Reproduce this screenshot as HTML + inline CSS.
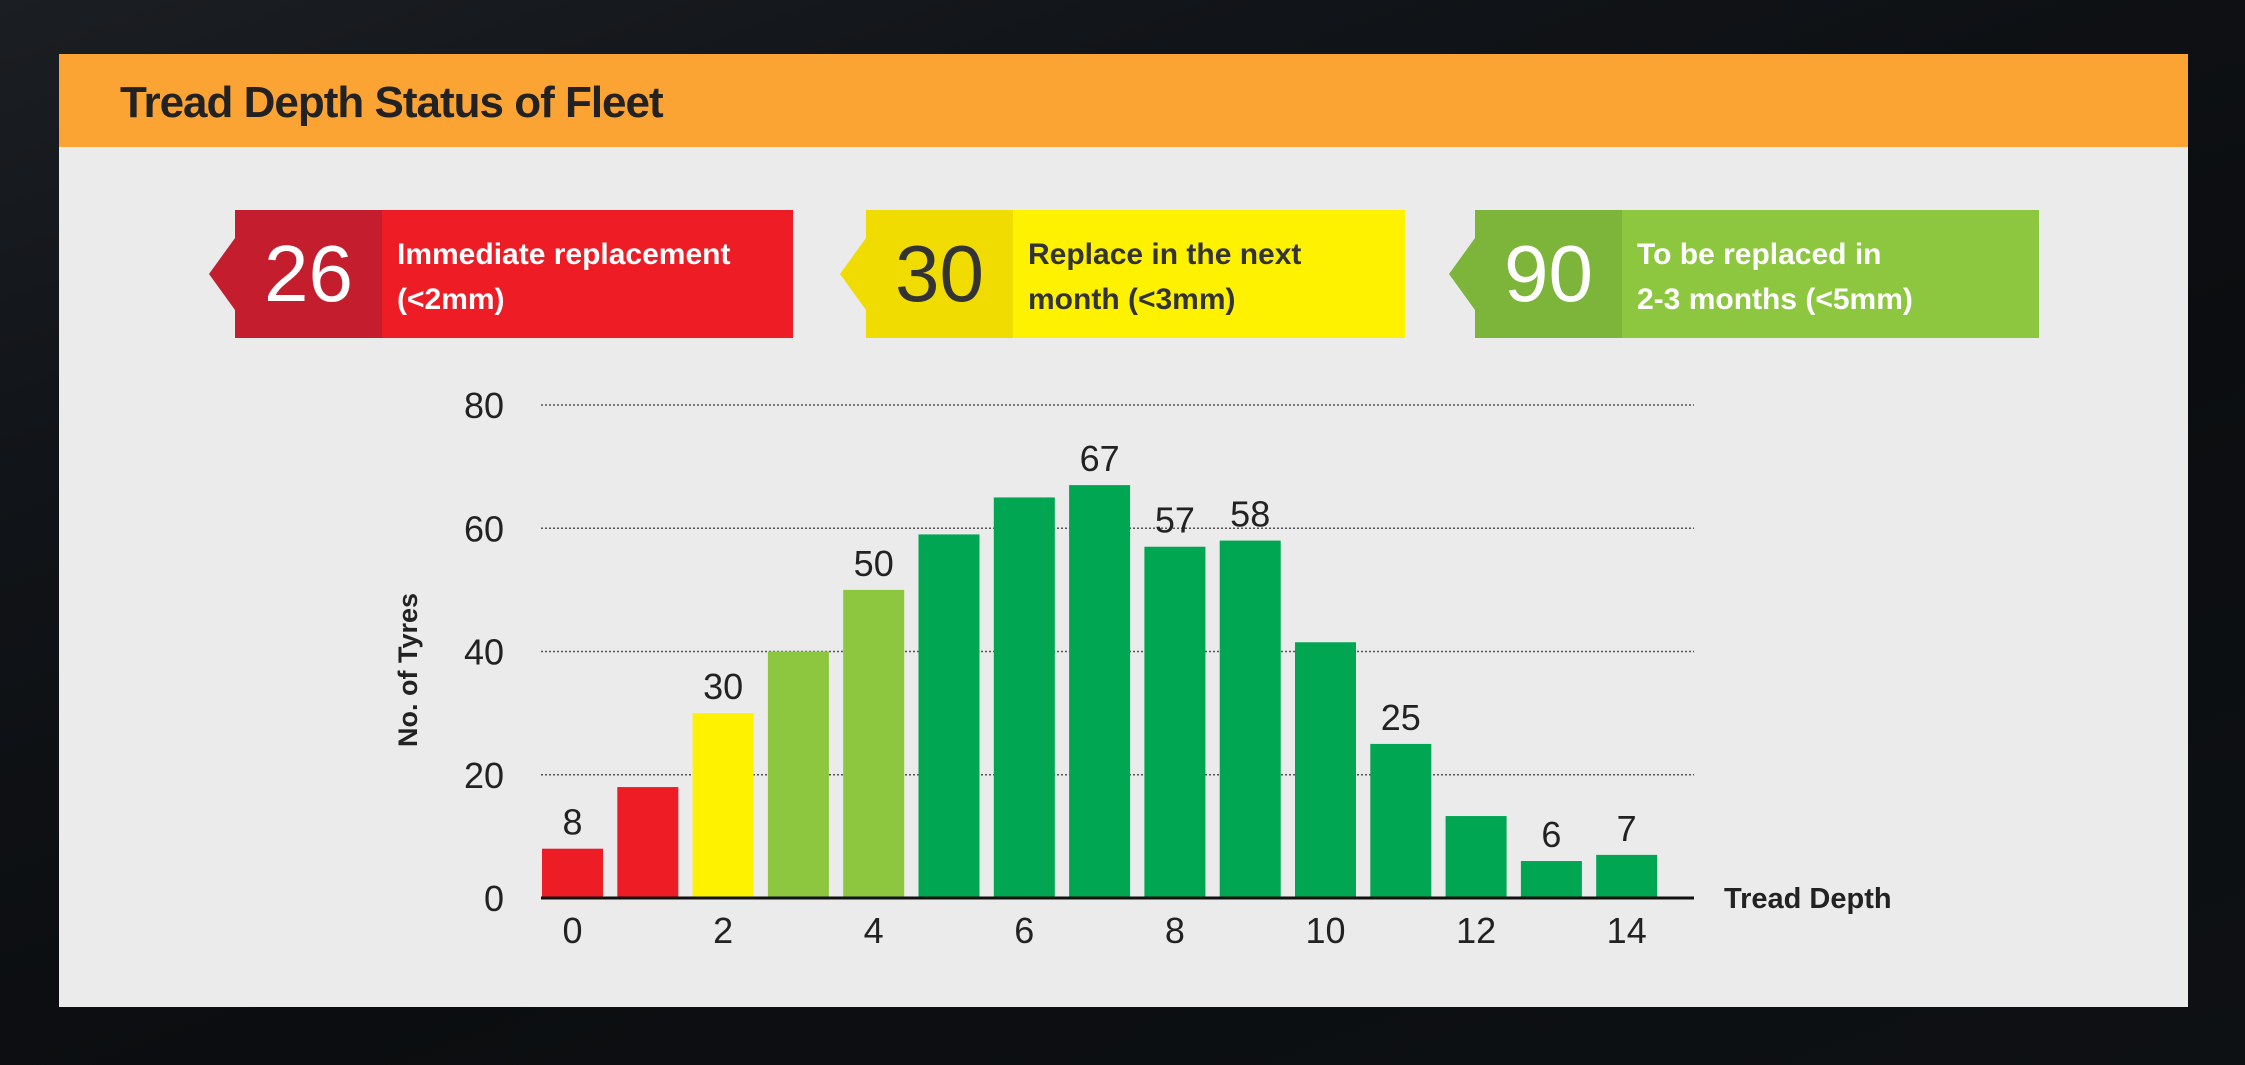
<!DOCTYPE html>
<html><head><meta charset="utf-8"><style>
body{margin:0;width:2245px;height:1065px;overflow:hidden;background:linear-gradient(160deg,#1b1e22 0%,#111418 25%,#0b0d10 60%,#0e1114 100%);font-family:"Liberation Sans",sans-serif;position:relative}
.panel{position:absolute;left:59px;top:54px;width:2129px;height:953px;background:#ebebeb}
.hdr{position:absolute;left:59px;top:54px;width:2129px;height:93px;background:#fca433}
.title{position:absolute;left:120px;top:78px;font-size:44px;font-weight:bold;color:#222;letter-spacing:-1px}
.card{position:absolute;top:210px;height:128px}
.card .num{position:absolute;left:0;top:0;width:147px;height:128px;font-size:80px;text-align:center;line-height:128px}
.card .txt{position:absolute;left:162px;top:22px;font-size:30px;font-weight:bold;line-height:45px;color:#fff}
</style></head><body>
<div class="panel"></div>
<div class="hdr"></div>
<div class="title">Tread Depth Status of Fleet</div>
<svg width="2245" height="1065" style="position:absolute;left:0;top:0">
<polygon points="235,238 209,274 235,310" fill="#c41e2e"/>
<polygon points="866,238 840,274 866,310" fill="#f0dc00"/>
<polygon points="1475,238 1449,274 1475,310" fill="#7cb53a"/>
</svg>
<div class="card" style="left:235px;width:558px;background:#ee1c25"><div class="num" style="background:#c41e2e;color:#fff">26</div><div class="txt">Immediate replacement<br>(&lt;2mm)</div></div>
<div class="card" style="left:866px;width:539px;background:#fff200"><div class="num" style="background:#f0dc00;color:#333">30</div><div class="txt" style="color:#333">Replace in the next<br>month (&lt;3mm)</div></div>
<div class="card" style="left:1475px;width:564px;background:#8dc63f"><div class="num" style="background:#7cb53a;color:#fff">90</div><div class="txt">To be replaced in<br>2-3 months (&lt;5mm)</div></div>
<svg id="chart" width="2245" height="1065" style="position:absolute;left:0;top:0"></svg>
<script>
const depths=[0,1,2,3,4,5,6,7,8,9,10,11,12,13,14];
const tyres=[8,18,30,40,50,59,65,67,57,58,41.5,25,13.3,6,7];
const shownLabels=["8","","30","","50","","","67","57","58","","25","","6","7"];
const barColors=["#ee1c25","#ee1c25","#fff200","#8dc63f","#8dc63f","#00a651","#00a651","#00a651","#00a651","#00a651","#00a651","#00a651","#00a651","#00a651","#00a651"];
const yTicks=[0,20,40,60,80];
const xTicks=[0,2,4,6,8,10,12,14];
const svg=document.getElementById('chart');const NS='http://www.w3.org/2000/svg';
const x0=542,pitch=75.3,bw=61,yBase=898,yTop=405,yMax=80;
const X=i=>x0+i*pitch;const Y=v=>yBase-(v/yMax)*(yBase-yTop);
function mk(t,a,txt){const e=document.createElementNS(NS,t);for(const k in a)e.setAttribute(k,a[k]);if(txt!==undefined)e.textContent=txt;svg.appendChild(e);return e;}
yTicks.forEach(v=>{
 if(v>0){const g=mk('line',{x1:541,x2:1694,y1:Y(v),y2:Y(v),stroke:'#555','stroke-width':1.5,'stroke-dasharray':'2,2'});
 
 }
 const t=mk('text',{x:504,y:Y(v)+13,'text-anchor':'end','font-size':36,fill:'#222'},v);
 
 
});
tyres.forEach((v,i)=>{
 const r=mk('rect',{x:X(depths[i]),y:Y(v),width:bw,height:yBase-Y(v),fill:barColors[i]});
 
 
 if(shownLabels[i]){const t=mk('text',{x:X(depths[i])+bw/2,y:Y(v)-14,'text-anchor':'middle','font-size':36,fill:'#222'},shownLabels[i]);
 
 }
});
const ax=mk('line',{x1:541,x2:1694,y1:yBase,y2:yBase,stroke:'#111','stroke-width':3});


xTicks.forEach(d=>{const t=mk('text',{x:X(d)+bw/2,y:943,'text-anchor':'middle','font-size':36,fill:'#222'},d);
 
 });
const yt=mk('text',{x:0,y:0,transform:'translate(417,670) rotate(-90)','text-anchor':'middle','font-size':27,'font-weight':'bold',fill:'#222'},'No. of Tyres');


const xt=mk('text',{x:1724,y:908,'font-size':29,'font-weight':'bold',fill:'#222'},'Tread Depth');


</script>
</body></html>
